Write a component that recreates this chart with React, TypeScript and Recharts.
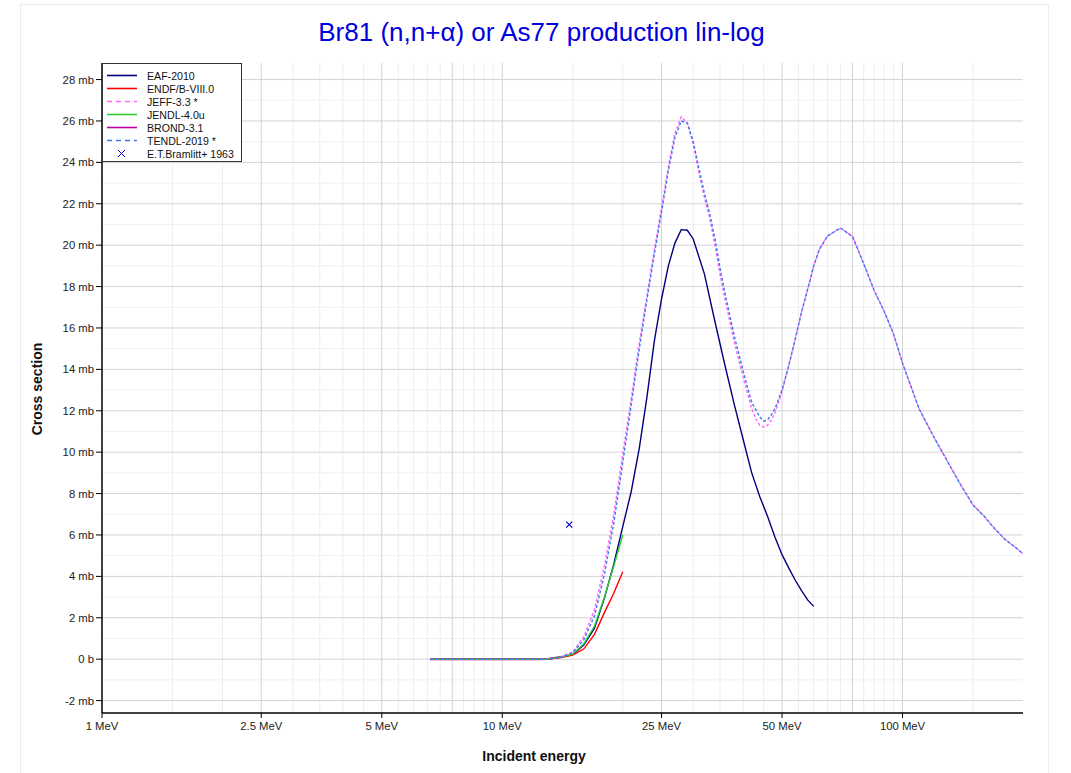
import React from 'react'
import { ComposedChart, Line, Scatter, XAxis, YAxis, ReferenceLine } from 'recharts'

// energies in MeV, cross sections in mb
const EAF_E = [6.6, 8, 10, 12, 13, 14, 15, 16, 17, 18, 19, 20, 21, 22, 23, 24, 25, 26, 27, 28, 29, 30, 32, 34, 36, 38, 40, 42, 44, 46, 48, 50, 52, 54, 56, 58, 60]
const EAF_S = [0, 0, 0, 0, 0.01, 0.1, 0.22, 0.7, 1.5, 2.95, 4.6, 6.4, 8.1, 10.2, 12.7, 15.4, 17.4, 19.0, 20.1, 20.75, 20.72, 20.3, 18.6, 16.3, 14.2, 12.3, 10.6, 9.0, 7.85, 6.9, 5.9, 5.05, 4.4, 3.8, 3.3, 2.85, 2.55]

const ENDF_E = [6.6, 8, 10, 12, 13, 14, 15, 16, 17, 18, 19, 20]
const ENDF_S = [0, 0, 0, 0, 0.01, 0.08, 0.2, 0.5, 1.2, 2.25, 3.2, 4.22]

const JEFF_E = [6.6, 8, 10, 12, 13, 14, 15, 16, 17, 18, 19, 20, 21, 22, 23, 24, 25, 26, 27, 28, 29, 30, 31, 32, 33, 34, 35, 36, 38, 40, 42, 43, 44, 45, 46, 47, 48, 50, 52, 54, 56, 58, 60, 62, 65, 70, 75, 80, 85, 90, 95, 100, 110, 120, 130, 140, 150, 160, 170, 180, 190, 200]
const JEFF_S = [0, 0, 0, 0, 0.01, 0.12, 0.35, 1.1, 2.4, 4.5, 7.0, 9.9, 12.6, 15.3, 17.6, 19.8, 21.8, 23.8, 25.4, 26.2, 25.9, 24.9, 23.5, 22.3, 21.3, 20.0, 18.6, 17.4, 15.3, 13.6, 12.1, 11.6, 11.3, 11.22, 11.3, 11.55, 11.9, 12.9, 14.2, 15.5, 16.8, 17.9, 19.0, 19.8, 20.45, 20.83, 20.42, 19.1, 17.8, 16.8, 15.7, 14.3, 12.1, 10.7, 9.5, 8.4, 7.45, 6.9, 6.3, 5.8, 5.45, 5.1]

const JENDL_E = [6.6, 8, 10, 12, 13, 14, 15, 16, 17, 18, 19, 20]
const JENDL_S = [0, 0, 0, 0, 0.01, 0.1, 0.25, 0.75, 1.6, 3.0, 4.5, 6.0]

const BROND_E = [6.6, 8, 10, 12, 13, 14]
const BROND_S = [0, 0, 0, 0, 0.01, 0.1]

const TENDL_E = [6.6, 8, 10, 12, 13, 14, 15, 16, 17, 18, 19, 20, 21, 22, 23, 24, 25, 26, 27, 28, 29, 30, 31, 32, 33, 34, 35, 36, 38, 40, 42, 44, 45, 46, 47, 48, 50, 52, 54, 56, 58, 60, 62, 65, 70, 75, 80, 85, 90, 95, 100, 110, 120, 130, 140, 150, 160, 170, 180, 190, 200]
const TENDL_S = [0, 0, 0, 0, 0.01, 0.1, 0.3, 0.95, 2.1, 4.1, 6.6, 9.5, 12.3, 15.0, 17.4, 19.6, 21.6, 23.6, 25.2, 26.0, 25.9, 25.0, 23.7, 22.5, 21.5, 20.3, 18.9, 17.7, 15.6, 13.9, 12.4, 11.7, 11.5, 11.55, 11.8, 12.1, 13.0, 14.2, 15.5, 16.8, 17.9, 19.0, 19.8, 20.45, 20.83, 20.42, 19.1, 17.8, 16.8, 15.7, 14.3, 12.1, 10.7, 9.5, 8.4, 7.45, 6.9, 6.3, 5.8, 5.45, 5.1]

const EXP_E = [14.7]
const EXP_S = [6.5]

const X_LABELS = [1, 2.5, 5, 10, 25, 50, 100]
const X_TICKS_IN = [1.5, 2, 2.5, 3, 3.5, 4, 4.5, 5, 5.5, 6, 6.5, 7, 7.5, 8, 8.5, 9, 9.5, 10, 15, 20, 25, 30, 35, 40, 45, 50, 55, 60, 65, 70, 75, 80, 85, 90, 95, 100, 150]
const X_GRID_DARK = [2.5, 5, 7.5, 10, 25, 50, 75, 100]
const X_GRID_LIGHT = [1.5, 2, 3, 3.5, 4, 4.5, 5.5, 6, 6.5, 7, 8, 8.5, 9, 9.5, 15, 20, 30, 35, 40, 45, 55, 60, 65, 70, 80, 85, 90, 95, 150]
const Y_LABELS = [-2, 0, 2, 4, 6, 8, 10, 12, 14, 16, 18, 20, 22, 24, 26, 28]
const Y_MINOR = [-1, 1, 3, 5, 7, 9, 11, 13, 15, 17, 19, 21, 23, 25, 27]
const Y_RIGHT = [-2, -1, 0, 1, 2, 3, 4, 5, 6, 7, 8, 9, 10, 11, 12, 13, 14, 15, 16, 17, 18, 19, 20, 21, 22, 23, 24, 25, 26, 27, 28]

const X_DOMAIN = [1, 200]
const Y_DOMAIN = [-2.6, 28.8]

const pts = (e: number[], s: number[]) => e.map((x, i) => ({ x, y: s[i] }))

const SERIES = [
  { name: 'EAF-2010', color: '#000080', dash: undefined, data: pts(EAF_E, EAF_S) },
  { name: 'ENDF/B-VIII.0', color: '#ff0000', dash: undefined, data: pts(ENDF_E, ENDF_S) },
  { name: 'JEFF-3.3 *', color: '#ff66ff', dash: '3 2', data: pts(JEFF_E, JEFF_S) },
  { name: 'JENDL-4.0u', color: '#33cc33', dash: undefined, data: pts(JENDL_E, JENDL_S) },
  { name: 'BROND-3.1', color: '#c000a0', dash: undefined, data: pts(BROND_E, BROND_S) },
  { name: 'TENDL-2019 *', color: '#4477ee', dash: '3 2', data: pts(TENDL_E, TENDL_S) },
]

const fmtE = (v: number) => `${v} MeV`
const fmtS = (v: number) => (v === 0 ? '0 b' : `${v} mb`)

const XMark = (props: any) => {
  const { cx, cy } = props
  return (
    <g stroke="#0000cc" strokeWidth={1.2}>
      <line x1={cx - 3} y1={cy - 3} x2={cx + 3} y2={cy + 3} />
      <line x1={cx - 3} y1={cy + 3} x2={cx + 3} y2={cy - 3} />
    </g>
  )
}

const font = 'Arial, "Liberation Sans", Helvetica, sans-serif'
const tickStyle = { fill: '#222', fontSize: 11.3, fontFamily: font }

export default function App() {
  const drawOrder = [SERIES[4], SERIES[0], SERIES[1], SERIES[3], SERIES[2], SERIES[5]]
  return (
    <div style={{ position: 'absolute', left: 0, top: 0, width: 1071, height: 773, background: '#fff', fontFamily: font, overflow: 'hidden' }}>
      <div style={{ position: 'absolute', left: 20, top: 4, width: 1027, height: 800, border: '1px solid #ececec' }} />
      <div style={{ position: 'absolute', left: 0, width: 1083, top: 17, textAlign: 'center', fontSize: 26, color: '#0000dd' }}>
        Br81 (n,n+α) or As77 production lin-log
      </div>
      <ComposedChart width={1071} height={773} margin={{ top: 63, right: 48, bottom: 0, left: 0 }} style={{ position: 'absolute', left: 0, top: 0 }}>
        <XAxis dataKey="x" type="number" scale="log" domain={X_DOMAIN} allowDataOverflow ticks={X_LABELS} interval={0}
          tickFormatter={fmtE} height={60} tickSize={5} tickMargin={4} tick={tickStyle}
          axisLine={{ stroke: '#000', strokeWidth: 1.5 }} tickLine={{ stroke: '#000' }} />
        <XAxis xAxisId="xin" type="number" scale="log" domain={X_DOMAIN} allowDataOverflow ticks={X_TICKS_IN} interval={0}
          mirror height={0} tick={false} tickSize={4} axisLine={false} tickLine={{ stroke: '#000' }} />
        <XAxis xAxisId="xtop" orientation="top" type="number" scale="log" domain={X_DOMAIN} allowDataOverflow ticks={[...X_LABELS, ...X_TICKS_IN]} interval={0}
          mirror height={0} tick={false} tickSize={4} axisLine={{ stroke: '#000', strokeWidth: 1.5 }} tickLine={{ stroke: '#000' }} />
        <YAxis dataKey="y" type="number" domain={Y_DOMAIN} allowDataOverflow ticks={Y_LABELS} interval={0}
          tickFormatter={fmtS} width={102} tickSize={6} tickMargin={2} tick={tickStyle}
          axisLine={{ stroke: '#000', strokeWidth: 1.5 }} tickLine={{ stroke: '#000' }} />
        <YAxis yAxisId="yin" type="number" domain={Y_DOMAIN} allowDataOverflow ticks={Y_MINOR} interval={0}
          mirror width={0} tick={false} tickSize={5} axisLine={false} tickLine={{ stroke: '#000' }} />
        <YAxis yAxisId="yright" orientation="right" type="number" domain={Y_DOMAIN} allowDataOverflow ticks={Y_RIGHT} interval={0}
          mirror width={0} tick={false} tickSize={4} axisLine={{ stroke: '#000', strokeWidth: 1.5 }} tickLine={{ stroke: '#000' }} />

        {Y_MINOR.map(v => <ReferenceLine key={'ym' + v} y={v} stroke="#f0f0f0" strokeWidth={1} />)}
        {X_GRID_LIGHT.map(v => <ReferenceLine key={'xl' + v} x={v} stroke="#eeeeee" strokeWidth={1} />)}
        {Y_LABELS.map(v => <ReferenceLine key={'yM' + v} y={v} stroke="#d3d3d3" strokeWidth={1} />)}
        {X_GRID_DARK.map(v => <ReferenceLine key={'xd' + v} x={v} stroke="#d3d3d3" strokeWidth={1} />)}

        {drawOrder.map(s => (
          <Line key={s.name} data={s.data} dataKey="y" type="linear" stroke={s.color} strokeWidth={s.name === 'BROND-3.1' ? 2 : 1.4}
            strokeDasharray={s.dash} dot={false} activeDot={false} isAnimationActive={false} />
        ))}
        <Scatter data={pts(EXP_E, EXP_S)} dataKey="y" shape={XMark} isAnimationActive={false} />
      </ComposedChart>

      <div style={{ position: 'absolute', left: 102, top: 63, width: 140, height: 99, border: '1px solid #333', background: '#fff', boxSizing: 'border-box' }}>
        {SERIES.map((s, i) => (
          <div key={s.name} style={{ position: 'absolute', left: 0, top: 5 + i * 13, height: 13, display: 'flex', alignItems: 'center' }}>
            <svg width={44} height={13}>
              <line x1={4} x2={34} y1={6.5} y2={6.5} stroke={s.color} strokeWidth={1.6} strokeDasharray={s.dash ? '5 4' : undefined} />
            </svg>
            <span style={{ fontSize: 10.6, color: '#111', whiteSpace: 'nowrap' }}>{s.name}</span>
          </div>
        ))}
        <div style={{ position: 'absolute', left: 0, top: 5 + 6 * 13, height: 13, display: 'flex', alignItems: 'center' }}>
          <svg width={44} height={13}>
            <line x1={15} y1={3} x2={22} y2={10} stroke="#0000cc" />
            <line x1={15} y1={10} x2={22} y2={3} stroke="#0000cc" />
          </svg>
          <span style={{ fontSize: 10.6, color: '#111', whiteSpace: 'nowrap' }}>E.T.Bramlitt+ 1963</span>
        </div>
      </div>

      <div style={{ position: 'absolute', left: 434, width: 200, top: 748, textAlign: 'center', fontSize: 14, fontWeight: 'bold', color: '#111' }}>
        Incident energy
      </div>
      <div style={{ position: 'absolute', left: 37 - 100, top: 390 - 9, width: 200, textAlign: 'center', fontSize: 14, fontWeight: 'bold', color: '#111', transform: 'rotate(-90deg)' }}>
        Cross section
      </div>
    </div>
  )
}
